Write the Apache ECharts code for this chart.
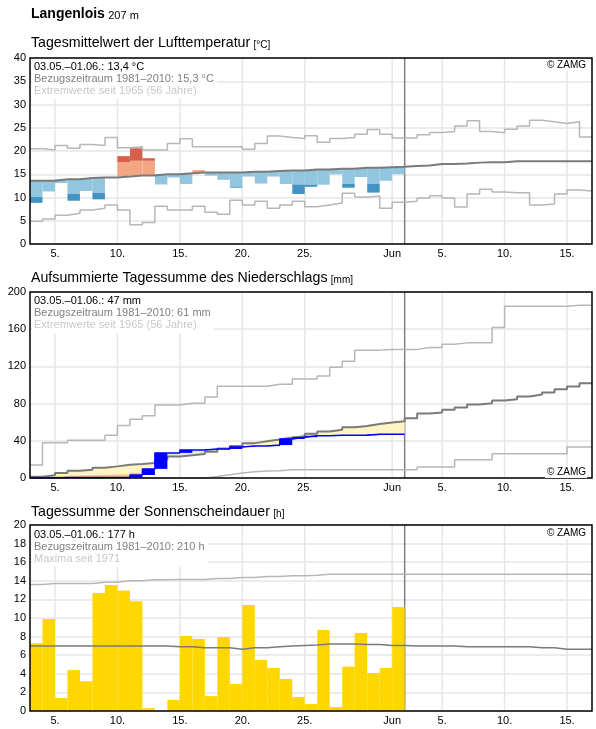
<!DOCTYPE html>
<html><head><meta charset="utf-8">
<script src="https://cdn.jsdelivr.net/npm/echarts@6/dist/echarts.min.js"></script>
<style>html,body{margin:0;padding:0;background:#fff}#c{width:596px;height:729px}</style>
</head><body><div id="c"></div>
<script>
// ---------- DATA (day 0 = 03.05., observations 03.05.–01.06.) ----------
const xTickIndex = [2, 7, 12, 17, 22, 29, 33, 38, 43];
const xTickLabels = ['5.', '10.', '15.', '20.', '25.', 'Jun', '5.', '10.', '15.'];
const obsEnd = 30;      // end of 01.06.
const axisDays = 45;    // 03.05. – 16.06.

const tempTicks = [0, 5, 10, 15, 20, 25, 30, 35, 40];
const precTicks = [0, 40, 80, 120, 160, 200];
const sunTicks = [0, 2, 4, 6, 8, 10, 12, 14, 16, 18, 20];

// Temperature (°C)
const tempObs = [8.85, 11.3, 13.1, 9.3, 11.4, 9.6, 14.3, 18.9, 20.6, 18.45,
  12.8, 14.3, 12.9, 15.9, 14.7, 13.8, 12.1, 14.5, 13.0, 14.5,
  12.9, 10.75, 12.3, 12.75, 15.0, 12.1, 14.4, 11.05, 13.6, 15.0];
const tempDev = [3.5, 3.3, 3.3, 3.15, 3.2, 3.3, 3.2, 3.1, 3.15, 3.15,
  3.2, 3.2, 3.2, 3.2, 3.2, 3.2, 3.1, 3.2, 3.2, 3.2,
  3.2, 3.0, 3.25, 3.4, 3.3, 3.3, 3.3, 3.5, 3.4, 3.4];
const tempNorm = [13.6, 13.6, 13.9, 13.9, 14.2, 14.3, 14.3, 14.5, 14.75, 14.75,
  15.0, 15.0, 15.2, 15.4, 15.4, 15.4, 15.4, 15.55, 15.55, 15.7,
  15.8, 15.8, 16.0, 16.0, 16.2, 16.2, 16.4, 16.4, 16.5, 16.6,
  16.8, 16.9, 17.2, 17.2, 17.3, 17.5, 17.6, 17.6, 17.8, 17.8,
  17.8, 17.8, 17.8, 17.8, 17.8];
const tempMax = [20.5, 20.2, 21.2, 20.6, 21.4, 21.2, 22.9, 20.7, 20.9, 20.2,
  20.2, 21.6, 22.65, 20.9, 20.9, 20.9, 20.9, 20.4, 21.6, 23.2,
  22.9, 22.7, 23.3, 21.9, 22.7, 22.9, 23.6, 24.6, 23.6, 22.8,
  22.8, 23.5, 24.0, 24.2, 25.4, 26.5, 24.2, 23.9, 24.7, 25.4,
  26.6, 26.3, 25.9, 26.3, 23.0];
const tempMin = [4.9, 5.35, 6.2, 6.6, 7.3, 7.7, 8.4, 7.3, 4.15, 4.6,
  8.1, 7.3, 7.3, 8.1, 6.85, 6.4, 9.4, 8.4, 9.2, 7.7,
  8.4, 9.2, 8.0, 8.4, 8.8, 10.9, 10.1, 10.3, 7.7, 9.0,
  9.2, 9.9, 10.4, 9.9, 7.95, 10.75, 11.8, 11.2, 11.0, 11.0,
  8.4, 8.6, 10.75, 11.6, 11.4];

// Precipitation, accumulated (mm)
const precCum = [0, 0, 0.6, 0.6, 0.6, 0.6, 0.6, 0.6, 3.2, 9.8,
  27.0, 27.0, 30.2, 30.2, 31.2, 31.2, 33.4, 34.3, 34.3, 35.4,
  42.0, 43.9, 45.4, 45.4, 46.1, 46.1, 46.1, 47.0, 47.0, 47.0];
const precLow = [1.0, 1.5, 2.0, 2.5, 3.0, 3.3, 3.6, 3.8, 5.5, 6.5,
  7.5, 8.5, 9.5, 10.5, 11.5, 12.5, 13.5, 14.5, 15.5, 16.5,
  17.5, 18.5, 19.5, 20.5, 21.5, 22.5, 23.5, 24.5, 25.5, 26.5];
const precNorm = [1.4, 2.9, 5.4, 7.9, 8.9, 11.1, 12.5, 14.3, 15.0, 16.1,
  20.0, 23.0, 24.5, 25.8, 28.3, 31.8, 34.5, 37.5, 39.5, 41.5,
  43.5, 45.0, 47.5, 50.0, 52.0, 54.5, 56.0, 58.0, 59.6, 61.0,
  64.3, 69.3, 70.4, 73.3, 75.8, 79.0, 80.5, 83.3, 84.8, 87.7,
  89.8, 92.0, 95.5, 98.4, 102.0];
const precMax = [13.9, 38.0, 38.0, 40.5, 40.5, 40.5, 46.1, 56.4, 63.2, 67.0,
  78.4, 78.4, 80.4, 80.4, 87.0, 98.6, 98.6, 98.6, 98.6, 100.7,
  100.7, 106.4, 106.4, 109.6, 119.0, 125.5, 137.5, 137.5, 138.3, 138.3,
  138.3, 140.4, 140.4, 143.9, 145.3, 145.3, 145.3, 161.8, 184.7, 184.7,
  184.7, 184.7, 184.7, 185.7, 185.7];
const precMin = [0, 0, 0, 0, 0, 0, 0, 0, 0, 0,
  0, 0, 0, 0, 1.5, 3.6, 5.5, 6.8, 7.5, 7.9,
  8.9, 8.9, 8.9, 8.9, 8.9, 8.9, 8.9, 8.9, 8.9, 8.9,
  8.9, 11.8, 11.8, 11.8, 19.6, 19.6, 19.6, 26.1, 26.1, 26.1,
  26.1, 26.1, 26.1, 33.2, 33.2];

// Sunshine duration (h)
const sunObs = [7.28, 9.9, 1.4, 4.4, 3.2, 12.7, 13.55, 12.95, 11.8, 0.3,
  0, 1.2, 8.06, 7.74, 1.6, 7.96, 2.9, 11.4, 5.48, 4.62,
  3.44, 1.5, 0.75, 8.7, 0.43, 4.77, 8.39, 4.09, 4.62, 11.18];
const sunNorm = [7.0, 7.0, 7.0, 7.0, 7.0, 7.0, 7.0, 7.0, 7.0, 7.0,
  7.0, 6.9, 6.9, 6.8, 6.8, 6.8, 6.65, 6.8, 6.8, 6.9,
  7.0, 7.05, 7.1, 7.2, 7.2, 7.2, 7.15, 7.15, 7.05, 7.05,
  7.0, 7.0, 7.0, 7.0, 6.9, 6.9, 6.9, 6.9, 6.9, 6.9,
  6.8, 6.8, 6.65, 6.65, 6.65];
const sunMax = [13.6, 13.7, 13.7, 13.7, 13.7, 13.85, 13.85, 14.0, 14.0, 14.1,
  14.1, 14.15, 14.15, 14.15, 14.25, 14.25, 14.35, 14.35, 14.45, 14.45,
  14.55, 14.55, 14.6, 14.7, 14.7, 14.7, 14.7, 14.7, 14.7, 14.7,
  14.7, 14.7, 14.7, 14.7, 14.7, 14.7, 14.7, 14.7, 14.7, 14.7,
  14.7, 14.7, 14.7, 14.7, 14.7];

// ---------- STYLE ----------
const FONT = '"Liberation Sans", Arial, Helvetica, sans-serif';
const C = {
  grid: '#e6e6e6', sep: '#808080', norm: '#7a7a7a', ext: '#b7b7b7',
  lBlue: '#92c5de', dBlue: '#4393c3', lRed: '#f4a582', dRed: '#d6604d',
  yel: '#fff5c2', ora: '#fcc56a', grn: '#dcefdc', blue: '#0000ff', sun: '#ffd700'
};
const gridTops = [58, 292, 525];

const chart = echarts.init(document.getElementById('c'), null, {renderer: 'canvas'});

const labelMap = {};
xTickIndex.forEach((d, k) => labelMap[d] = xTickLabels[k]);

function stepData(arr) {
  const d = arr.map((v, i) => [i, v]);
  d.push([arr.length, arr[arr.length - 1]]);
  return d;
}
function stepLine(arr, gi, color, width, z) {
  return {type: 'line', xAxisIndex: gi, yAxisIndex: gi, data: stepData(arr), step: 'end',
    symbol: 'none', lineStyle: {color, width}, z, silent: true, animation: false};
}
function rectBetween(api, i, v0, v1, color) {
  const a = api.coord([i, Math.max(v0, v1)]);
  const b = api.coord([i + 1, Math.min(v0, v1)]);
  return {type: 'rect', shape: {x: a[0], y: a[1], width: b[0] - a[0], height: b[1] - a[1]},
    style: {fill: color}};
}
function vLines(gi, ymax) {
  const data = xTickIndex.map(x => [x, 0, ymax, 0]);
  data.push([obsEnd, 0, ymax, 1]);
  return {type: 'custom', xAxisIndex: gi, yAxisIndex: gi, data, z: 1, silent: true,
    encode: {x: 0, y: 1},
    renderItem: (p, api) => {
      const x = api.value(0), sep = api.value(3);
      const a = api.coord([x, api.value(1)]), b = api.coord([x, api.value(2)]);
      return {type: 'line', shape: {x1: a[0], y1: a[1], x2: b[0], y2: b[1]},
        style: {stroke: sep ? C.sep : C.grid, lineWidth: 1.5}, z2: sep ? 100 : 0};
    }};
}

const series = [];
series.push(vLines(0, tempTicks[tempTicks.length - 1]));
series.push(vLines(1, precTicks[precTicks.length - 1]));
series.push(vLines(2, sunTicks[sunTicks.length - 1]));

// --- Temperature fills
series.push({type: 'custom', xAxisIndex: 0, yAxisIndex: 0, z: 2, silent: true,
  data: tempObs.map((o, i) => [i, o, tempNorm[i], tempDev[i]]),
  encode: {x: 0, y: 1},
  renderItem: (p, api) => {
    const i = api.value(0), o = api.value(1), n = api.value(2), d = api.value(3);
    const ch = [];
    if (o < n) {
      const t = n - d;
      ch.push(rectBetween(api, i, n, Math.max(o, t), C.lBlue));
      if (o < t) ch.push(rectBetween(api, i, t, o, C.dBlue));
    } else if (o > n) {
      const t = n + d;
      ch.push(rectBetween(api, i, n, Math.min(o, t), C.lRed));
      if (o > t) ch.push(rectBetween(api, i, t, o, C.dRed));
    }
    return {type: 'group', children: ch};
  }});
series.push(stepLine(tempMax, 0, C.ext, 1.5, 3));
series.push(stepLine(tempMin, 0, C.ext, 1.5, 3));
series.push(stepLine(tempNorm, 0, C.norm, 2, 3));

// --- Precipitation fills
series.push({type: 'custom', xAxisIndex: 1, yAxisIndex: 1, z: 2, silent: true,
  data: precCum.map((c, i) => [i, c, precNorm[i], precLow[i]]),
  encode: {x: 0, y: 1},
  renderItem: (p, api) => {
    const i = api.value(0), c = api.value(1), n = api.value(2), l = api.value(3);
    const ch = [];
    if (c < n) {
      ch.push(rectBetween(api, i, n, Math.max(c, l), C.yel));
      if (c < l) ch.push(rectBetween(api, i, l, c, C.ora));
    } else if (c > n) {
      ch.push(rectBetween(api, i, n, c, C.grn));
    }
    return {type: 'group', children: ch};
  }});
series.push(stepLine(precMax, 1, C.ext, 1.5, 3));
series.push(stepLine(precMin, 1, C.ext, 1.5, 3));
series.push(stepLine(precNorm, 1, C.norm, 2, 3));
series.push({type: 'custom', xAxisIndex: 1, yAxisIndex: 1, z: 4, silent: true,
  data: precCum.map((c, i) => [i, c, i ? precCum[i - 1] : 0]),
  encode: {x: 0, y: 1},
  renderItem: (p, api) => {
    const i = api.value(0), c = api.value(1), prev = api.value(2);
    if (c <= prev) return {type: 'group', children: []};
    return rectBetween(api, i, prev, c, C.blue);
  }});
series.push(stepLine(precCum, 1, C.blue, 1.5, 4));

// --- Sunshine
series.push({type: 'custom', xAxisIndex: 2, yAxisIndex: 2, z: 2, silent: true,
  data: sunObs.map((v, i) => [i, v]),
  encode: {x: 0, y: 1},
  renderItem: (p, api) => {
    const i = api.value(0), v = api.value(1);
    if (v <= 0) return {type: 'group', children: []};
    return rectBetween(api, i, 0, v, C.sun);
  }});
series.push(stepLine(sunMax, 2, C.ext, 1.5, 3));
series.push(stepLine(sunNorm, 2, C.norm, 1.5, 3));

const grids = gridTops.map(t => ({left: 30, top: t, width: 562, height: 186, show: true,
  borderColor: '#000', borderWidth: 1.5, backgroundColor: 'transparent', z: 10}));

const xAxes = gridTops.map((t, gi) => ({gridIndex: gi, type: 'value', min: 0, max: axisDays, interval: 1,
  axisLine: {show: false}, axisTick: {show: false}, splitLine: {show: false},
  axisLabel: {formatter: v => labelMap[v] || '', fontSize: 11, color: '#000', margin: 4, fontFamily: FONT}}));

const yAxes = [tempTicks, precTicks, sunTicks].map((tk, gi) => ({gridIndex: gi, type: 'value',
  min: tk[0], max: tk[tk.length - 1], interval: tk[1] - tk[0],
  axisLine: {show: false}, axisTick: {show: false},
  axisLabel: {fontSize: 11, color: '#000', margin: 4, fontFamily: FONT},
  splitLine: {lineStyle: {color: C.grid, width: 1.5}}}));

function titleText(y, main, unit) {
  return {type: 'text', x: 31, y, z: 20,
    style: {text: '{m|' + main + '} {u|' + unit + '}', verticalAlign: 'middle', align: 'left',
      rich: {m: {font: '14.2px ' + FONT, fill: '#000', verticalAlign: 'bottom'},
             u: {font: '10px ' + FONT, fill: '#000', verticalAlign: 'bottom'}}}};
}
function legendText(top, l1, l2, l3) {
  return {type: 'text', x: 32, y: top, z: 20,
    style: {text: '{a|' + l1 + '}\n{b|' + l2 + '}\n{c|' + l3 + '}', align: 'left', verticalAlign: 'top',
      backgroundColor: '#fff', padding: [2, 3, 2, 2],
      rich: {a: {font: '11px ' + FONT, fill: '#000', lineHeight: 12},
             b: {font: '11px ' + FONT, fill: '#808080', lineHeight: 12},
             c: {font: '11px ' + FONT, fill: '#c8c8c8', lineHeight: 12}}}};
}
function zamg(y) {
  return {type: 'text', x: 587, y, z: 20,
    style: {text: '© ZAMG', font: '10px ' + FONT, fill: '#000', align: 'right', verticalAlign: 'middle',
      backgroundColor: '#fff', padding: [1, 1, 1, 2]}};
}

const graphic = [
  {type: 'text', x: 31, y: 14.5, z: 20, style: {text: '{a|Langenlois} {b|207 m}', verticalAlign: 'middle',
    rich: {a: {font: 'bold 14px ' + FONT, fill: '#000', verticalAlign: 'bottom'},
           b: {font: '11px ' + FONT, fill: '#000', verticalAlign: 'bottom'}}}},
  titleText(43.5, 'Tagesmittelwert der Lufttemperatur', '[°C]'),
  titleText(278, 'Aufsummierte Tagessumme des Niederschlags', '[mm]'),
  titleText(512, 'Tagessumme der Sonnenscheindauer', '[h]'),
  legendText(59, '03.05.–01.06.: 13,4 °C', 'Bezugszeitraum 1981–2010: 15,3 °C', 'Extremwerte seit 1965 (56 Jahre)'),
  legendText(293, '03.05.–01.06.: 47 mm', 'Bezugszeitraum 1981–2010: 61 mm', 'Extremwerte seit 1965 (56 Jahre)'),
  legendText(526.5, '03.05.–01.06.: 177 h', 'Bezugszeitraum 1981–2010: 210 h', 'Maxima seit 1971'),
  zamg(65), zamg(472), zamg(533)
];

chart.setOption({
  animation: false,
  backgroundColor: '#fff',
  textStyle: {fontFamily: FONT},
  grid: grids, xAxis: xAxes, yAxis: yAxes, series, graphic
});
</script>
</body></html>
